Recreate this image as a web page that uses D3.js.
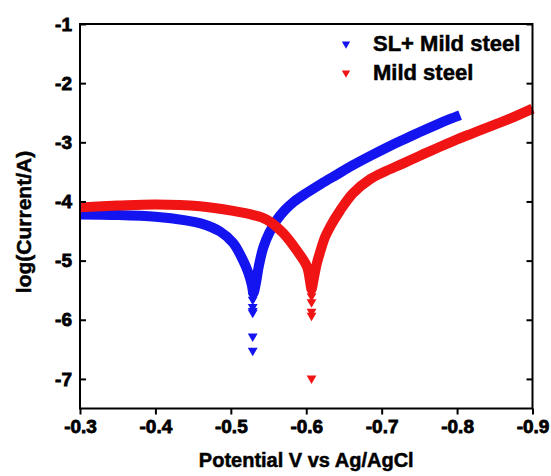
<!DOCTYPE html>
<html>
<head>
<meta charset="utf-8">
<script src="https://cdn.jsdelivr.net/npm/d3@7"></script>
<style>
    html, body { margin: 0; padding: 0; background: #fff; }
    svg { display: block; font-family: Arial, 'Liberation Sans', sans-serif; }
    .axis path, .axis line { stroke: #000; stroke-width: 2; }
    text.heavy { font-weight: bold; fill: #000; stroke: #000; stroke-width: 0.5px; }
    .axis text.tick-label { font-family: Arial, 'Liberation Sans', sans-serif; font-weight: bold; font-size: 19px; fill: #000; stroke: #000; stroke-width: 0.8px; }
</style>
</head>
<body>
<svg id="chart" width="551" height="476"></svg>
<script>
// Tafel plot: potential (V vs Ag/AgCl) against log(current)

// SL+ Mild steel (blue) - continuous band
const slPotential = [-0.300, -0.350, -0.400, -0.440, -0.460, -0.486, -0.503, -0.516, -0.523, -0.528, -0.530,
    -0.533, -0.537, -0.543, -0.551, -0.561, -0.572, -0.583, -0.600, -0.620, -0.640, -0.660, -0.685,
    -0.705, -0.728, -0.750, -0.773, -0.790, -0.804];
const slLogI = [-4.22, -4.23, -4.26, -4.32, -4.37, -4.51, -4.70, -4.99, -5.20, -5.42, -5.55,
    -5.40, -5.10, -4.78, -4.53, -4.31, -4.14, -4.01, -3.86, -3.70, -3.55, -3.40, -3.23,
    -3.10, -2.96, -2.83, -2.70, -2.61, -2.54];
// SL+ Mild steel - scattered points at the corrosion potential
const slTailPotential = [-0.529, -0.529, -0.529, -0.529, -0.529, -0.529, -0.529];
const slTailLogI = [-5.60, -5.66, -5.78, -5.85, -5.88, -6.28, -6.52];

// Mild steel (red) - continuous band
const msPotential = [-0.300, -0.350, -0.400, -0.459, -0.503, -0.530, -0.548, -0.569, -0.587, -0.601, -0.605, -0.607,
    -0.610, -0.614, -0.618, -0.625, -0.632, -0.645, -0.662, -0.685, -0.705, -0.728, -0.750, -0.773,
    -0.800, -0.822, -0.844, -0.870, -0.900];
const msLogI = [-4.10, -4.07, -4.05, -4.08, -4.16, -4.23, -4.31, -4.53, -4.82, -5.10, -5.35, -5.48,
    -5.30, -5.05, -4.87, -4.60, -4.42, -4.15, -3.86, -3.62, -3.49, -3.36, -3.23, -3.10,
    -2.95, -2.84, -2.73, -2.60, -2.43];
// Mild steel - scattered points at the corrosion potential
const msTailPotential = [-0.607, -0.607, -0.607, -0.607, -0.607, -0.607];
const msTailLogI = [-5.55, -5.60, -5.70, -5.86, -5.93, -6.99];

const xTicks = [-0.3, -0.4, -0.5, -0.6, -0.7, -0.8, -0.9];
const yTicks = [-1, -2, -3, -4, -5, -6, -7];

const seriesNames = ['SL+ Mild steel', 'Mild steel'];
const seriesColors = ['#1414f0', '#f01414'];

(function() {
    'use strict';

    const margin = { top: 24, right: 18.5, bottom: 67.5, left: 80 };
    const width = 551, height = 476;
    const innerWidth = width - margin.left - margin.right;
    const innerHeight = height - margin.top - margin.bottom;

    const svg = d3.select('#chart');
    const g = svg.append('g')
        .attr('transform', `translate(${margin.left}, ${margin.top})`);

    const x = d3.scaleLinear().domain([-0.3, -0.9]).range([0, innerWidth]);
    const y = d3.scaleLinear().domain([-7.5, -1]).range([innerHeight, 0]);

    // Curves
    const line = d3.line()
        .x(d => x(d[0]))
        .y(d => y(d[1]))
        .curve(d3.curveCatmullRom.alpha(0.5));

    const bands = [
        { px: slPotential, py: slLogI, tx: slTailPotential, ty: slTailLogI, color: seriesColors[0] },
        { px: msPotential, py: msLogI, tx: msTailPotential, ty: msTailLogI, color: seriesColors[1] }
    ];

    const tri = d3.symbol().type(d3.symbolTriangle).size(42);

    bands.forEach(b => {
        const pts = b.px.map((v, i) => [v, b.py[i]]);
        g.append('path')
            .datum(pts)
            .attr('fill', 'none')
            .attr('stroke', b.color)
            .attr('stroke-width', 10)
            .attr('stroke-linejoin', 'round')
            .attr('stroke-linecap', 'butt')
            .attr('d', line);

        const tail = b.tx.map((v, i) => [v, b.ty[i]]);
        g.selectAll(null)
            .data(tail)
            .enter()
            .append('path')
            .attr('d', tri)
            .attr('fill', b.color)
            .attr('transform', d => `translate(${x(d[0])}, ${y(d[1])}) rotate(180)`);
    });

    // Frame
    g.append('rect')
        .attr('width', innerWidth)
        .attr('height', innerHeight)
        .attr('fill', 'none')
        .attr('stroke', '#000')
        .attr('stroke-width', 2);

    function styleTicks(sel) {
        sel.attr('font-family', null).attr('font-size', null);
        sel.selectAll('.tick text').classed('tick-label', true);
    }

    // X axis (ticks outward)
    const xAxis = g.append('g')
        .attr('class', 'axis')
        .attr('transform', `translate(0, ${innerHeight})`)
        .call(d3.axisBottom(x)
            .tickValues(xTicks)
            .tickFormat(d => d.toFixed(1))
            .tickSizeInner(6)
            .tickSizeOuter(0)
            .tickPadding(5));
    styleTicks(xAxis);
    xAxis.select('.domain').remove();

    // Y axis (ticks inward)
    const yAxis = g.append('g')
        .attr('class', 'axis')
        .call(d3.axisLeft(y)
            .tickValues(yTicks)
            .tickFormat(d => String(d))
            .tickSizeInner(-6)
            .tickSizeOuter(0)
            .tickPadding(8));
    styleTicks(yAxis);
    yAxis.select('.domain').remove();

    // Right mirror ticks
    g.append('g')
        .attr('class', 'axis')
        .attr('transform', `translate(${innerWidth}, 0)`)
        .call(d3.axisRight(y)
            .tickValues(yTicks)
            .tickFormat('')
            .tickSizeInner(-6)
            .tickSizeOuter(0))
        .select('.domain').remove();

    // Axis titles
    svg.append('text')
        .attr('class', 'heavy')
        .attr('x', margin.left + innerWidth / 2)
        .attr('y', 467)
        .attr('text-anchor', 'middle')
        .style('font-size', '20px')
        .text('Potential V vs Ag/AgCl');

    svg.append('text')
        .attr('class', 'heavy')
        .attr('transform', 'rotate(-90)')
        .attr('x', -222)
        .attr('y', 31)
        .attr('text-anchor', 'middle')
        .style('font-size', '21px')
        .text('log(Current/A)');

    // Legend
    const legendTri = d3.symbol().type(d3.symbolTriangle).size(30);
    const legend = svg.append('g').attr('transform', 'translate(346, 44)');
    seriesNames.forEach((name, i) => {
        const item = legend.append('g').attr('transform', `translate(0, ${i * 29})`);
        item.append('path')
            .attr('d', legendTri)
            .attr('fill', seriesColors[i])
            .attr('transform', 'rotate(180)');
        item.append('text')
            .attr('class', 'heavy')
            .attr('x', 27)
            .attr('y', 7)
            .style('font-size', '22px')
            .text(name);
    });
})();
</script>
</body>
</html>
